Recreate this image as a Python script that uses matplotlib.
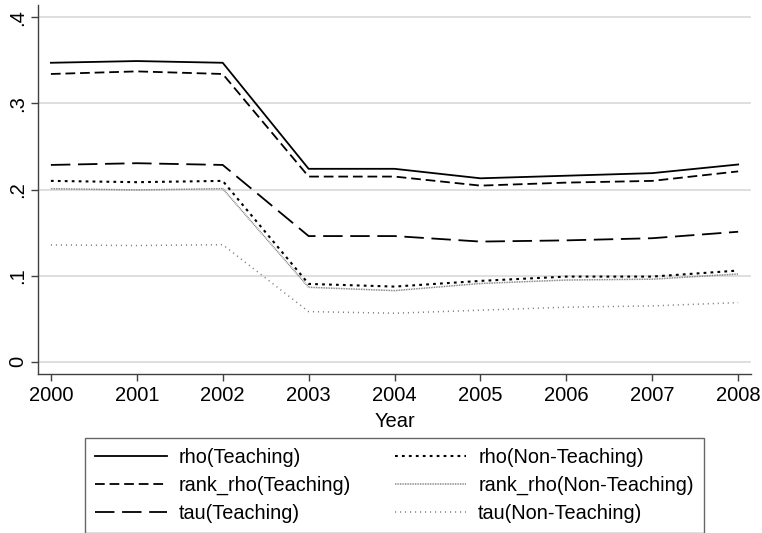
import numpy as np
import matplotlib
matplotlib.use("Agg")
import matplotlib.pyplot as plt

plt.rcParams['font.family'] = ['Liberation Sans', 'DejaVu Sans']
plt.rcParams['lines.scale_dashes'] = False

years = [2000, 2001, 2002, 2003, 2004, 2005, 2006, 2007, 2008]

rho_teach = [0.347, 0.349, 0.347, 0.224, 0.224, 0.213, 0.216, 0.219, 0.229]
rank_rho_teach = [0.334, 0.337, 0.334, 0.215, 0.215, 0.2045, 0.208, 0.210, 0.221]
tau_teach = [0.2285, 0.2305, 0.2285, 0.146, 0.146, 0.1396, 0.141, 0.1435, 0.151]
rho_nonteach = [0.210, 0.2085, 0.210, 0.0905, 0.0874, 0.094, 0.099, 0.099, 0.106]
rank_rho_nonteach = [0.201, 0.1995, 0.201, 0.0866, 0.0827, 0.091, 0.095, 0.096, 0.102]
tau_nonteach = [0.1357, 0.135, 0.136, 0.0584, 0.0565, 0.060, 0.0635, 0.065, 0.0688]

yticks = [0, 0.1, 0.2, 0.3, 0.4]
ytick_labels = ["0", ".1", ".2", ".3", ".4"]

fig = plt.figure(figsize=(7.62, 5.33), dpi=100)
ax = fig.add_axes([0.0499, 0.2983, 0.9357, 0.6923])

for y in yticks:
    ax.axhline(y, color='#dcdcdc', lw=1.3, zorder=0)

ax.plot(years, rho_teach, color='black', lw=1.3, ls='-', label='rho(Teaching)')
ax.plot(years, rank_rho_teach, color='black', lw=1.3, dashes=(7, 3.5), label='rank_rho(Teaching)')
ax.plot(years, tau_teach, color='black', lw=1.3, dashes=(14, 5.5), label='tau(Teaching)')
ax.plot(years, rho_nonteach, color='black', lw=1.5, dashes=(2.0, 3.0), label='rho(Non-Teaching)')
ax.plot(years, rank_rho_nonteach, color='#707070', lw=1.1, dashes=(0.6, 0.6), label='rank_rho(Non-Teaching)')
ax.plot(years, tau_nonteach, color='#808080', lw=1.1, dashes=(0.8, 2.8), label='tau(Non-Teaching)')

ax.set_xlim(1999.85, 2008.15)
ax.set_ylim(-0.014, 0.414)
ax.set_xticks(years)
ax.set_yticks(yticks)
ax.set_yticklabels(ytick_labels, rotation=90, va='center')
ax.tick_params(axis='both', labelsize=14.5, length=5, width=1, color='#404040', direction='out')
ax.tick_params(axis='y', pad=3)
ax.set_xlabel('Year', fontsize=14.5, labelpad=5)

for side in ['top', 'right']:
    ax.spines[side].set_visible(False)
for side in ['left', 'bottom']:
    ax.spines[side].set_color('#404040')
    ax.spines[side].set_linewidth(1)

# two columns: teaching series on the left, non-teaching on the right
leg = fig.legend(loc='center', bbox_to_anchor=(0.5177, 0.0891), ncol=2,
                 fontsize=14.3, frameon=True, fancybox=False,
                 handlelength=3.6, handletextpad=0.6, columnspacing=2.2,
                 labelspacing=0.45, borderpad=0.5)
leg.get_frame().set_edgecolor('#404040')
leg.get_frame().set_linewidth(1)

fig.savefig('out.png', dpi=100)
